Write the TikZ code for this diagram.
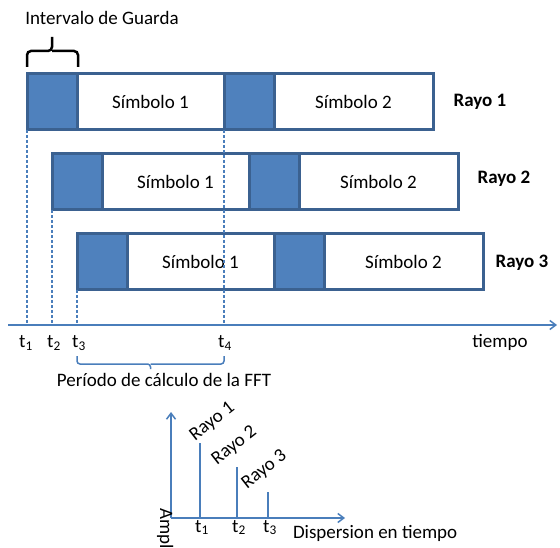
\documentclass[tikz,border=0pt]{standalone}
\usepackage{fontspec}
\setmainfont{Carlito}
\usetikzlibrary{arrows.meta}
\definecolor{fillblue}{HTML}{4F81BD}
\definecolor{edgeblue}{HTML}{3B6190}
\definecolor{lineblue}{HTML}{4A7EBB}
\begin{document}
\begin{tikzpicture}[x=1pt,y=-1pt,
  every node/.style={font=\fontsize{19}{22}\selectfont, inner sep=0pt, outer sep=0pt},
  guardbox/.style={draw=edgeblue, fill=fillblue, line width=3pt, minimum width=50pt, minimum height=56pt, anchor=north west},
  symbox/.style={draw=edgeblue, fill=white, line width=3pt, minimum height=56pt, anchor=north west},
  rayolbl/.style={font=\fontsize{19}{22}\selectfont\bfseries},
  axisline/.style={draw=lineblue, line width=1.5pt},
  arrowhd/.style={-{Straight Barb[length=6pt,width=9pt,line width=1.5pt]}},
  dashline/.style={draw=lineblue, line width=1.4pt, dash pattern=on 3pt off 2pt},
  spike/.style={draw=lineblue, line width=2pt}
]
\useasboundingbox (0,0) rectangle (560,548);

% Guard interval label and brace
\node (ig) at (102,18) {Intervalo de Guarda};
\draw[line width=2.5pt, rounded corners=4pt] (27,67) |- (52,51) -- (52,37);
\draw[line width=2.5pt, rounded corners=4pt] (78,67) |- (52,51);

% Row 1
\node[guardbox] (g11) at (27,74) {};
\node[symbox, minimum width=147pt] (s11) at (g11.north east) {Símbolo 1};
\node[guardbox] (g12) at (s11.north east) {};
\node[symbox, minimum width=159pt] (s12) at (g12.north east) {Símbolo 2};
\node[rayolbl] (r1) at (480,102) {Rayo 1};

% Row 2
\node[guardbox] (g21) at (52,154) {};
\node[symbox, minimum width=147pt] (s21) at (g21.north east) {Símbolo 1};
\node[guardbox] (g22) at (s21.north east) {};
\node[symbox, minimum width=159pt] (s22) at (g22.north east) {Símbolo 2};
\node[rayolbl] (r2) at (504,179) {Rayo 2};

% Row 3
\node[guardbox] (g31) at (77,234) {};
\node[symbox, minimum width=147pt] (s31) at (g31.north east) {Símbolo 1};
\node[guardbox] (g32) at (s31.north east) {};
\node[symbox, minimum width=159pt] (s32) at (g32.north east) {Símbolo 2};
\node[rayolbl] (r3) at (522,263) {Rayo 3};

% Time axis
\coordinate (a0) at (8,325);
\coordinate (a1) at (557,325);
\draw[axisline, arrowhd] (a0) -- (a1);

% Dashed markers
\draw[dashline] (g11.south west) -- (g11.south west |- a0);
\draw[dashline] (g21.south west) -- (g21.south west |- a0);
\draw[dashline] (g31.south west) -- (g31.south west |- a0);
\draw[dashline] (g12.south west) -- (g12.south west |- a0);

% t labels
\node[anchor=base] (t1) at (26,348) {t\textsubscript{1}};
\node[anchor=base] (t2) at (54,348) {t\textsubscript{2}};
\node[anchor=base] (t3) at (79,348) {t\textsubscript{3}};
\node[anchor=base] (t4) at (225,348) {t\textsubscript{4}};
\node[anchor=base] (tiempo) at (500,348) {tiempo};

% FFT period brace
\draw[lineblue, line width=1.5pt, rounded corners=3pt] (77,356) |- (150.5,364) -- (150.5,369);
\draw[lineblue, line width=1.5pt, rounded corners=3pt] (224,356) |- (150.5,364);
\node (fft) at (164,380) {Período de cálculo de la FFT};

% Bottom chart
\coordinate (o) at (171,518);
\coordinate (ytop) at (171,412);
\coordinate (xend) at (345,518);
\draw[axisline, arrowhd] (o) -- (ytop);
\draw[axisline, arrowhd] (o) -- (xend);
\coordinate (p1) at (200,443);
\coordinate (p2) at (237,467);
\coordinate (p3) at (268,492);
\draw[spike] (p1) -- (p1 |- o);
\draw[spike] (p2) -- (p2 |- o);
\draw[spike] (p3) -- (p3 |- o);
\node[rotate=38, anchor=base west] (lr1) at (195,441) {Rayo 1};
\node[rotate=38, anchor=base west] (lr2) at (217,465) {Rayo 2};
\node[rotate=38, anchor=base west] (lr3) at (247,489) {Rayo 3};
\node[anchor=base] (u1) at (202,532) {t\textsubscript{1}};
\node[anchor=base] (u2) at (239,532) {t\textsubscript{2}};
\node[anchor=base] (u3) at (270,532) {t\textsubscript{3}};
\node[anchor=base west] (disp) at (293,538) {Dispersion en tiempo};
\node[rotate=-90, anchor=base west] (amp) at (160,508) {Ampl};
\end{tikzpicture}
\end{document}
